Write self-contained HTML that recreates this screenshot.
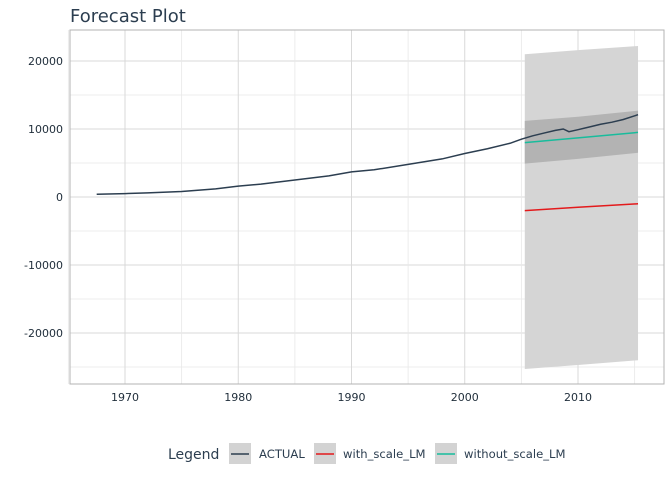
<!DOCTYPE html>
<html><head><meta charset="utf-8"><style>
body{margin:0;background:#fff;}
svg{display:block;font-family:"DejaVu Sans","Liberation Sans",sans-serif;}
</style></head><body>
<svg id="chart" width="672" height="480">
<text x="70" y="22" font-size="18" fill="#2c3e50">Forecast Plot</text>
<g id="grid"></g><g id="bands"></g><g id="lines"></g><g id="axes"></g>
<rect x="70" y="30" width="594" height="354" fill="none" stroke="#b3b3b3"/>
<g>
<text x="168" y="459" font-size="14" fill="#2c3e50">Legend</text>
<g><rect x="229" y="443" width="22" height="21" fill="#d3d3d3"/><line x1="231" y1="454" x2="249" y2="454" stroke="#2c3e50" stroke-width="1.5"/><text x="259" y="458" font-size="11.6" fill="#2c3e50">ACTUAL</text></g>
<g><rect x="314" y="443" width="22" height="21" fill="#d3d3d3"/><line x1="316" y1="454" x2="334" y2="454" stroke="#e31a1c" stroke-width="1.5"/><text x="343" y="458" font-size="11.6" fill="#2c3e50">with_scale_LM</text></g>
<g><rect x="435" y="443" width="22" height="21" fill="#d3d3d3"/><line x1="437" y1="454" x2="455" y2="454" stroke="#18bc9c" stroke-width="1.5"/><text x="464" y="458" font-size="11.6" fill="#2c3e50">without_scale_LM</text></g>
</g>
</svg>
<script>
const actualYears=[1967.5,1970,1972,1975,1978,1980,1982,1985,1988,1990,1992,1995,1998,2000,2002,2004,2005,2006,2007,2008,2008.7,2009.2,2010,2011,2012,2013,2014,2015.3];
const actualVals=[400,500,600,800,1200,1600,1900,2500,3100,3700,4000,4800,5600,6400,7100,7900,8500,9000,9400,9800,10000,9600,9900,10300,10700,11000,11400,12100];
const fcYears=[2005.3,2010,2015.3];
const withScale=[-2000,-1500,-1000];
const withoutScale=[8000,8700,9500];
const hi95=[21000,21600,22200];
const lo95=[-25300,-24700,-24000];
const hi80=[11200,11800,12700];
const lo80=[4900,5600,6500];
const yTicks=[-20000,-10000,0,10000,20000];
const xTicks=[1970,1980,1990,2000,2010];
const NS="http://www.w3.org/2000/svg";
const X=v=>125+(v-1970)*11.325;
const Y=v=>197-v*0.0068;
function mk(tag,attrs,parent){const e=document.createElementNS(NS,tag);for(const k in attrs)e.setAttribute(k,attrs[k]);document.getElementById(parent).appendChild(e);return e;}
for(let v=-25000;v<=20000;v+=5000){const l=mk('line',{x1:70,x2:664,y1:Y(v),y2:Y(v),stroke:v%10000===0?'#d9d9d9':'#e8e8e8','stroke-width':v%10000===0?1:0.8},'grid');

}
for(let v=1965;v<=2015;v+=5){const l=mk('line',{x1:X(v),x2:X(v),y1:30,y2:384,stroke:v%10===0?'#d9d9d9':'#e8e8e8','stroke-width':v%10===0?1:0.8},'grid');

}
yTicks.forEach(v=>{const t=mk('text',{x:63,y:Y(v)+4,'text-anchor':'end','font-size':11,fill:'#1f2d3a'},'axes');t.textContent=v;

});
xTicks.forEach(v=>{const t=mk('text',{x:X(v),y:401,'text-anchor':'middle','font-size':11,fill:'#1f2d3a'},'axes');t.textContent=v;

});
function band(hi,lo,fill,name){let d='M'+fcYears.map((y,i)=>X(y)+','+Y(hi[i])).join('L');d+='L'+fcYears.map((y,i)=>[X(y),Y(lo[i])]).reverse().map(p=>p.join(',')).join('L')+'Z';
const p=mk('path',{d:d,fill:fill},'bands');

}
band(hi95,lo95,'#d5d5d5','band-95');
band(hi80,lo80,'#b3b3b3','band-80');
function line(xs,ys,color,name){const p=mk('polyline',{points:xs.map((x,i)=>X(x)+','+Y(ys[i])).join(' '),fill:'none',stroke:color,'stroke-width':1.5},'lines');

}
line(actualYears,actualVals,'#2c3e50','actual-line');
line(fcYears,withScale,'#e31a1c','with-scale-lm-line');
line(fcYears,withoutScale,'#18bc9c','without-scale-lm-line');
</script>
</body></html>
